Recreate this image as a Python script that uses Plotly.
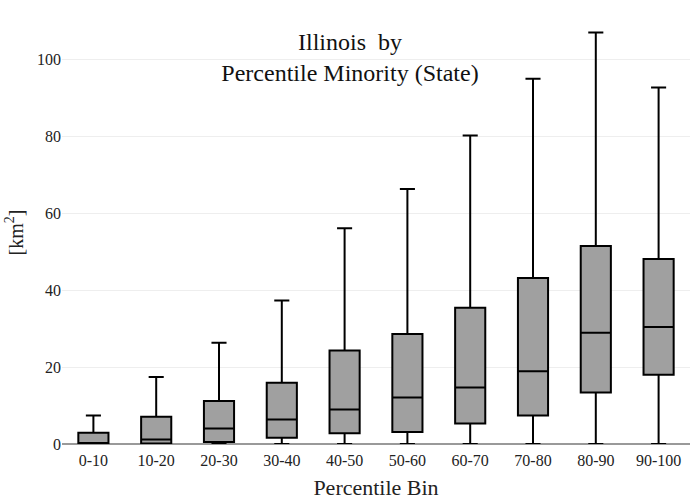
import plotly.graph_objects as go

categories = ["0-10", "10-20", "20-30", "30-40", "40-50", "50-60", "60-70", "70-80", "80-90", "90-100"]
q1 = [0.0, 0.1, 0.5, 1.6, 2.8, 3.1, 5.3, 7.4, 13.4, 18.0]
median = [0.2, 1.2, 4.0, 6.4, 9.0, 12.1, 14.7, 18.9, 28.9, 30.4]
q3 = [2.9, 7.1, 11.2, 15.9, 24.3, 28.6, 35.4, 43.2, 51.5, 48.1]
lowerfence = [0, 0, 0, 0, 0, 0, 0, 0, 0, 0]
upperfence = [7.4, 17.4, 26.3, 37.3, 56.1, 66.3, 80.2, 95.0, 107.0, 92.7]

fig = go.Figure()
fig.add_trace(go.Box(
    x=categories, q1=q1, median=median, q3=q3,
    lowerfence=lowerfence, upperfence=upperfence,
    fillcolor="#a0a0a0", line=dict(color="black", width=2),
    width=0.48, whiskerwidth=0.5, boxpoints=False, showlegend=False,
))

font_family = "Liberation Serif, Times New Roman, serif"
fig.update_layout(
    width=700, height=500,
    margin=dict(l=62, r=10, t=21, b=56),
    paper_bgcolor="white", plot_bgcolor="white",
    font=dict(family=font_family, color="#222", size=16),
    title=dict(text="Illinois  by<br>Percentile Minority (State)", x=0.5, xanchor="center",
               y=0.9, yanchor="top", yref="container", font=dict(size=24, family=font_family, color="#111")),
    xaxis=dict(title=dict(text="Percentile Bin", font=dict(size=22, family=font_family), standoff=12),
               showgrid=False, automargin=False, ticklen=2, ticks="outside", tickcolor="rgba(0,0,0,0)",
               range=[-0.5, 9.5], tickfont=dict(size=16, family=font_family)),
    yaxis=dict(title=dict(text="[km<sup>2</sup>]", font=dict(size=20, family=font_family), standoff=8),
               range=[0, 110], automargin=False,
               gridcolor="#eeeeee", zeroline=True, zerolinecolor="#999999", zerolinewidth=2,
               tickfont=dict(size=16, family=font_family), tickvals=[0, 20, 40, 60, 80, 100]),
)

fig.write_html("out.html")
